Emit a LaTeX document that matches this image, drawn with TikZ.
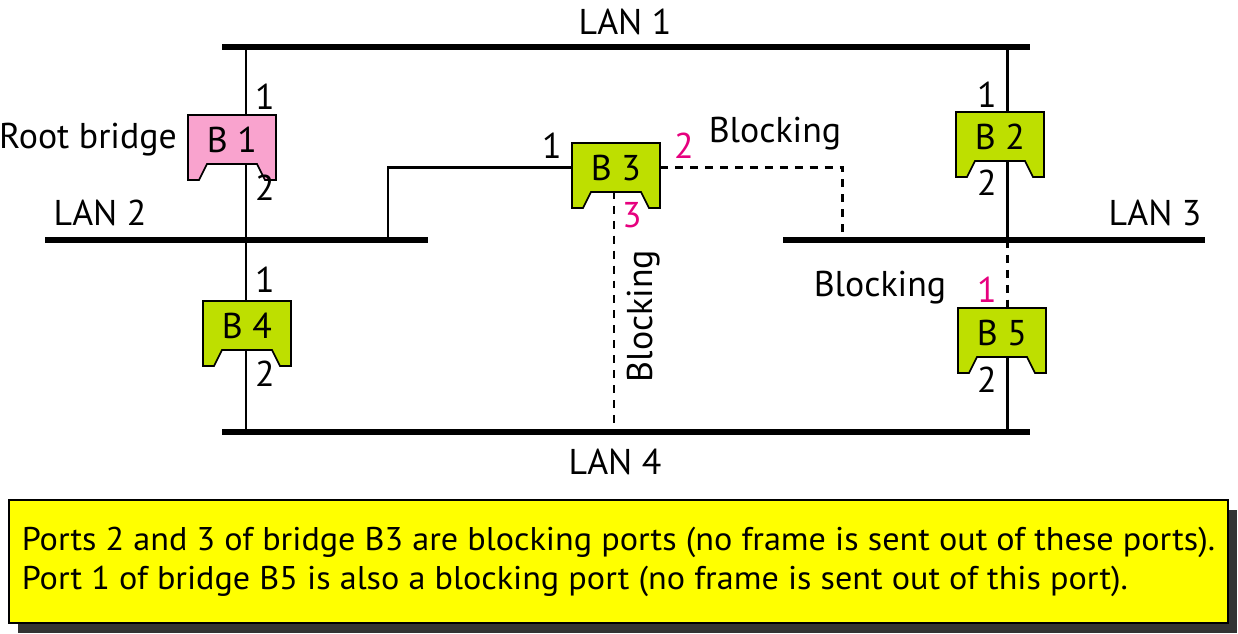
\documentclass[tikz,border=0pt]{standalone}
\usepackage{fontspec}
\setmainfont{PT Sans}
\newfontfamily\notefont[FakeStretch=1.04]{PT Sans}
\usetikzlibrary{calc,backgrounds,shadows}
\definecolor{rootpink}{HTML}{F9A3CE}
\definecolor{bridgegreen}{HTML}{BEDF00}
\definecolor{portpink}{HTML}{E6007E}
\definecolor{noteyellow}{HTML}{FFFF00}
\tikzset{lan/.style={line width=3.2pt},
  link/.style={line width=1.7pt},
  blocked/.style={line width=1.7pt,dash pattern=on 4.5pt off 4pt},
  lbl/.style={font=\fontsize{20.4}{24}\selectfont,inner sep=0pt},
  port/.style={lbl},
  blkport/.style={lbl,text=portpink},
  bridge/.style={lbl,minimum width=1.76cm,minimum height=1.3cm,text height=0.5cm,text depth=0.32cm},
  notebox/.style={draw,line width=1.2pt,fill=noteyellow,minimum width=24.38cm,minimum height=2.46cm,
    inner xsep=0.1cm,align=left,font=\notefont\fontsize{18.7}{22.1}\selectfont,
    drop shadow={shadow xshift=0.18cm,shadow yshift=-0.2cm,fill=black!80,opacity=1}}}
% bridge outline with notch, then its node
\newcommand\bridgeat[5]{%
  \filldraw[fill=#4,line width=1pt] (#2-44,#3-33) -- (#2+44,#3-33) -- (#2+44,#3+32) -- (#2+33,#3+32)
    -- (#2+25,#3+16) -- (#2-25,#3+16) -- (#2-33,#3+32) -- (#2-44,#3+32) -- cycle;
  \node[bridge] (#1) at (#2,#3) {#5};}

\begin{document}
\begin{tikzpicture}[x=0.02cm,y=-0.02cm]
\useasboundingbox (0,0) rectangle (1238,633);
% draw LANs
\coordinate (lan1w) at (222,47);  \coordinate (lan1e) at (1030,47);
\coordinate (lan2w) at (45,240);  \coordinate (lan2e) at (428,240);
\coordinate (lan3w) at (783,240); \coordinate (lan3e) at (1205,240);
\coordinate (lan4w) at (222,432); \coordinate (lan4e) at (1030,432);
\draw[lan] (lan1w) -- (lan1e);
\draw[lan] (lan2w) -- (lan2e);
\draw[lan] (lan3w) -- (lan3e);
\draw[lan] (lan4w) -- (lan4e);
\node[lbl] (lan1) at (625,22) {LAN 1};
\node[lbl] (lan2) at (100,213) {LAN 2};
\node[lbl] (lan3) at (1155,213) {LAN 3};
\node[lbl] (lan4) at (615,462) {LAN 4};
% taps on the LANs
\coordinate (tapl1) at (246,47);  \coordinate (tapl4) at (246,432);
\coordinate (tapr1) at (1007,47); \coordinate (tapr3) at (1007,240); \coordinate (tapr4) at (1007,432);
\coordinate (tap2) at (388,240);  \coordinate (tap3) at (842,240);
% draw bridges
\bridgeat{b1}{232}{148}{rootpink}{B 1}
\bridgeat{b2}{1000}{145}{bridgegreen}{B 2}
\bridgeat{b3}{616}{176}{bridgegreen}{B 3}
\bridgeat{b4}{247}{334}{bridgegreen}{B 4}
\bridgeat{b5}{1002}{341}{bridgegreen}{B 5}
% draw links behind bridges
\begin{scope}[on background layer]
\draw[link] (tapl1) -- (tapl4);
\draw[link] (tapr1) -- (tapr3);
\draw[blocked] (tapr3) -- (tapr3 |- b5.north);
\draw[link] (tapr3 |- b5) -- (tapr4);
\draw[link] (tap2) |- ([yshift=0.18cm]b3.west);
\draw[blocked] ([yshift=0.18cm]b3.east) -| (tap3);
\draw[blocked] ([xshift=-0.04cm]b3.center) -- ([xshift=-0.04cm]b3.center |- lan4w);
\end{scope}
% port numbers
\node[port] (b1p1) at (265,97) {1};
\node[port] (b1p2) at (265,188) {2};
\node[port] (b2p1) at (987,95) {1};
\node[port] (b2p2) at (987,183) {2};
\node[port] (b3p1) at (552,146) {1};
\node[blkport] (b3p2) at (684,146) {2};
\node[blkport] (b3p3) at (632,215) {3};
\node[port] (b4p1) at (265,280) {1};
\node[port] (b4p2) at (265,374) {2};
\node[blkport] (b5p1) at (987,290) {1};
\node[port] (b5p2) at (987,380) {2};
% labels
\node[lbl] (root) at (88,140) {Root bridge};
\node[lbl] (blk1) at (775,134) {Blocking};
\node[lbl] (blk2) at (880,288) {Blocking};
\node[lbl,rotate=90] (blk3) at (644,316) {Blocking};
% note
\node[notebox] (note) at (618.5,561.5) {Ports 2 and 3 of bridge B3 are blocking ports (no frame is sent out of these ports).\\
Port 1 of bridge B5 is also a blocking port (no frame is sent out of this port).};
\end{tikzpicture}
\end{document}
